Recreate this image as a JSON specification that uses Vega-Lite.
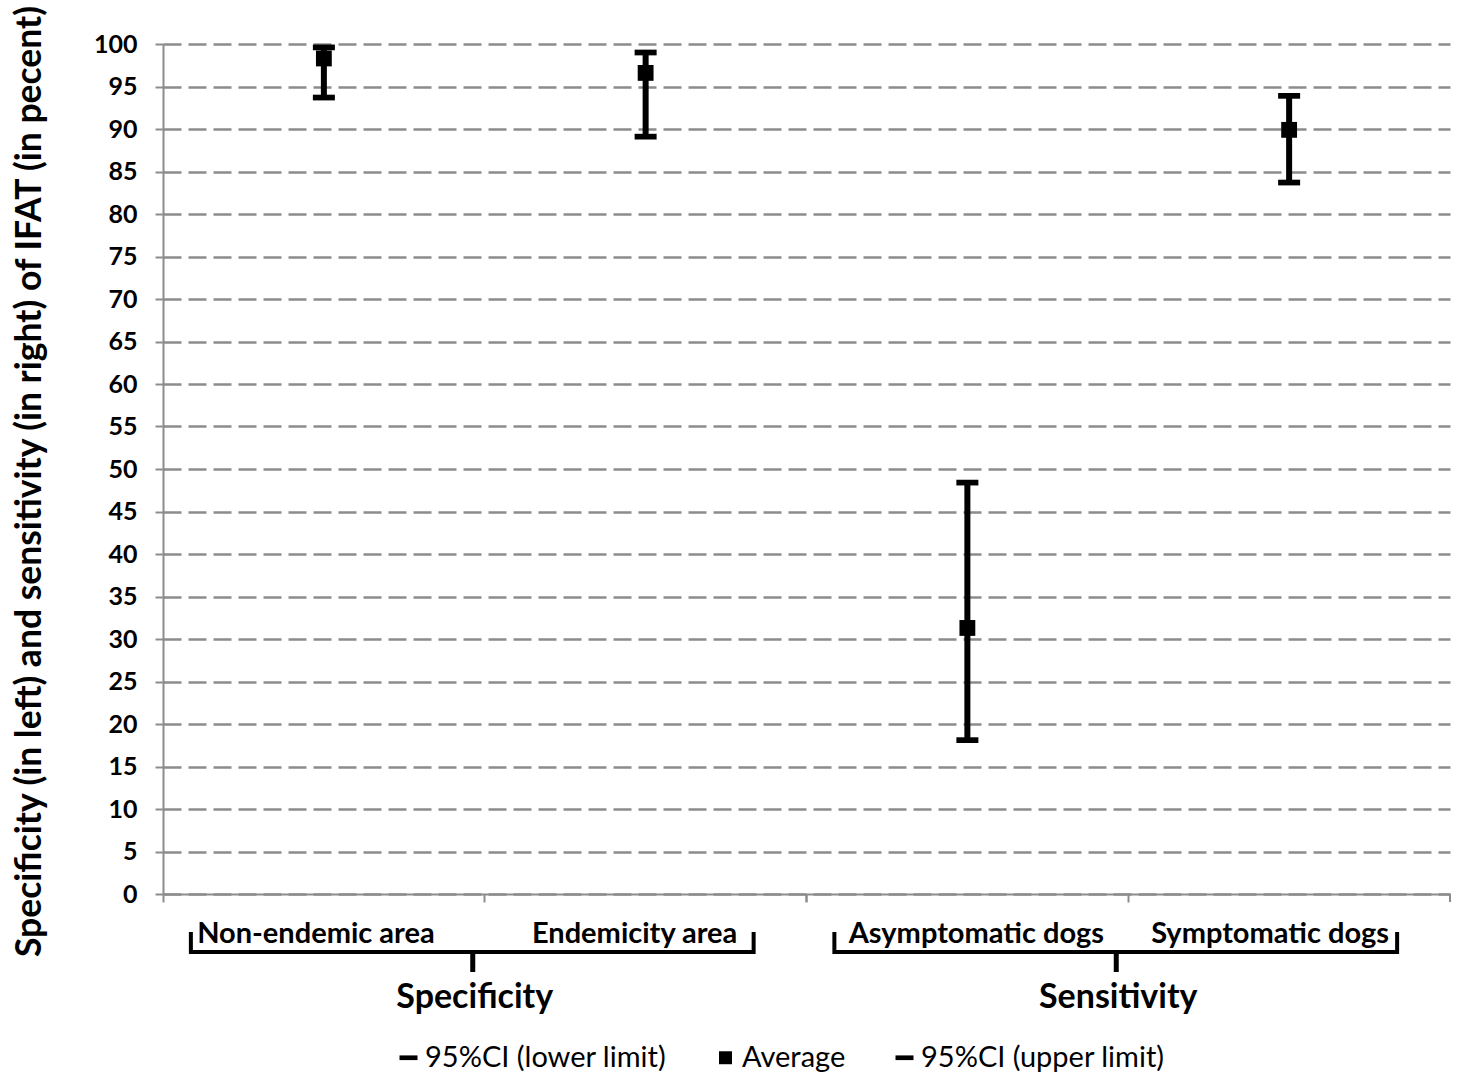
{
  "$schema": "https://vega.github.io/schema/vega-lite/v6.json",
  "width": 1287,
  "height": 850,
  "autosize": {"type": "none"},
  "padding": {"left": 163, "top": 44, "right": 8, "bottom": 178},
  "background": "white",
  "config": {"font": "Lato", "view": {"stroke": null}},
  "datasets": {
    "ifat": [
      {"category": "Non-endemic area", "series": "95%CI (lower limit)", "value": 93.7},
      {"category": "Non-endemic area", "series": "Average", "value": 98.3},
      {"category": "Non-endemic area", "series": "95%CI (upper limit)", "value": 99.6},
      {"category": "Endemicity area", "series": "95%CI (lower limit)", "value": 89.1},
      {"category": "Endemicity area", "series": "Average", "value": 96.6},
      {"category": "Endemicity area", "series": "95%CI (upper limit)", "value": 99.0},
      {"category": "Asymptomatic dogs", "series": "95%CI (lower limit)", "value": 18.1},
      {"category": "Asymptomatic dogs", "series": "Average", "value": 31.3},
      {"category": "Asymptomatic dogs", "series": "95%CI (upper limit)", "value": 48.4},
      {"category": "Symptomatic dogs", "series": "95%CI (lower limit)", "value": 83.7},
      {"category": "Symptomatic dogs", "series": "Average", "value": 89.9},
      {"category": "Symptomatic dogs", "series": "95%CI (upper limit)", "value": 93.9}
    ],
    "groups": [
      {"group": "Specificity", "first": "Non-endemic area", "last": "Endemicity area"},
      {"group": "Sensitivity", "first": "Asymptomatic dogs", "last": "Symptomatic dogs"}
    ]
  },
  "layer": [
    {
      "data": {"name": "ifat"},
      "mark": {"type": "rule", "strokeWidth": 6, "color": "black"},
      "encoding": {
        "x": {
          "field": "category", "type": "nominal", "sort": null, "title": null,
          "scale": {"domain": ["Non-endemic area", "Endemicity area", "Asymptomatic dogs", "Symptomatic dogs"], "paddingInner": 0, "paddingOuter": 0},
          "axis": {"domainColor": "#8c8c8c", "domainWidth": 2, "ticks": true, "tickColor": "#8c8c8c", "tickWidth": 2, "tickSize": 8, "bandPosition": 0, "labelFont": "Lato", "labelFontSize": 29, "labelFontWeight": "bold", "labelColor": "black", "labelPadding": 17, "labelAngle": 0, "labelLimit": 0, "grid": false,
            "labelOffset": {"condition": [{"test": "datum.value === 'Non-endemic area'", "value": -8}, {"test": "datum.value === 'Endemicity area'", "value": -11}, {"test": "datum.value === 'Asymptomatic dogs'", "value": 9}], "value": -19}}
        },
        "y": {
          "aggregate": "min", "field": "value", "type": "quantitative",
          "title": "Specificity (in left) and sensitivity (in right) of IFAT (in pecent)",
          "scale": {"domain": [0, 100], "nice": false, "zero": true},
          "axis": {"titleFont": "Lato", "titleFontSize": 35.5, "titleFontWeight": "bold", "titleColor": "black", "titlePadding": 46, "titleY": 437, "titleLimit": 0, "values": [0, 5, 10, 15, 20, 25, 30, 35, 40, 45, 50, 55, 60, 65, 70, 75, 80, 85, 90, 95, 100], "labelFont": "Lato", "labelFontSize": 25, "labelFontWeight": "bold", "labelColor": "black", "labelPadding": 18, "tickSize": 8, "tickColor": "#8c8c8c", "tickWidth": 2, "domainColor": "#8c8c8c", "domainWidth": 2, "grid": true, "gridColor": "#8c8c8c", "gridDash": [18, 7], "gridWidth": 2.5}
        },
        "y2": {"aggregate": "max", "field": "value"}
      }
    },
    {
      "data": {"name": "ifat"},
      "mark": {"type": "point", "filled": true, "size": 484, "opacity": 1, "color": "black", "strokeWidth": 0},
      "encoding": {
        "x": {"field": "category", "type": "nominal", "title": null},
        "y": {"field": "value", "type": "quantitative", "title": "Specificity (in left) and sensitivity (in right) of IFAT (in pecent)"},
        "shape": {
          "field": "series", "type": "nominal",
          "scale": {"domain": ["95%CI (lower limit)", "Average", "95%CI (upper limit)"], "range": ["M-1,-0.26H1V0.26H-1Z", "M-0.72,-0.72H0.72V0.72H-0.72Z", "M-1,-0.26H1V0.26H-1Z"]},
          "legend": {"orient": "none", "legendX": 231, "legendY": 999, "direction": "horizontal", "title": null, "labelFont": "Lato", "labelFontSize": 29, "labelColor": "black", "labelLimit": 0, "symbolSize": 324, "symbolFillColor": "black", "symbolStrokeWidth": 0, "columnPadding": 44, "labelOffset": 2}
        }
      }
    },
    {
      "data": {"name": "groups"},
      "mark": {"type": "rule", "strokeWidth": 2, "color": "#8c8c8c", "y2Offset": 8},
      "encoding": {
        "x": {"field": "last", "type": "nominal", "bandPosition": 1, "title": null},
        "y": {"datum": 0, "type": "quantitative", "title": "Specificity (in left) and sensitivity (in right) of IFAT (in pecent)"},
        "y2": {"datum": 0}
      }
    },
    {
      "data": {"name": "groups"},
      "mark": {"type": "rule", "strokeWidth": 4, "color": "black", "xOffset": -133, "x2Offset": 108, "yOffset": 58},
      "encoding": {
        "x": {"field": "first", "type": "nominal", "title": null},
        "x2": {"field": "last"},
        "y": {"datum": 0, "type": "quantitative", "title": "Specificity (in left) and sensitivity (in right) of IFAT (in pecent)"}
      }
    },
    {
      "data": {"name": "groups"},
      "mark": {"type": "rule", "strokeWidth": 4, "color": "black", "xOffset": -133, "yOffset": 38, "y2Offset": 60},
      "encoding": {
        "x": {"field": "first", "type": "nominal", "title": null},
        "y": {"datum": 0, "type": "quantitative", "title": "Specificity (in left) and sensitivity (in right) of IFAT (in pecent)"},
        "y2": {"datum": 0}
      }
    },
    {
      "data": {"name": "groups"},
      "mark": {"type": "rule", "strokeWidth": 4, "color": "black", "xOffset": 108, "yOffset": 38, "y2Offset": 60},
      "encoding": {
        "x": {"field": "last", "type": "nominal", "title": null},
        "y": {"datum": 0, "type": "quantitative", "title": "Specificity (in left) and sensitivity (in right) of IFAT (in pecent)"},
        "y2": {"datum": 0}
      }
    },
    {
      "data": {"name": "groups"},
      "mark": {"type": "rule", "strokeWidth": 5, "color": "black", "xOffset": -12, "yOffset": 58, "y2Offset": 78},
      "encoding": {
        "x": {"field": "last", "type": "nominal", "bandPosition": 0, "title": null},
        "y": {"datum": 0, "type": "quantitative", "title": "Specificity (in left) and sensitivity (in right) of IFAT (in pecent)"},
        "y2": {"datum": 0}
      }
    },
    {
      "data": {"name": "groups"},
      "mark": {"type": "text", "font": "Lato", "fontSize": 34, "fontWeight": "bold", "color": "black", "align": "center", "baseline": "middle", "xOffset": -10, "yOffset": 104},
      "encoding": {
        "x": {"field": "last", "type": "nominal", "bandPosition": 0, "title": null},
        "y": {"datum": 0, "type": "quantitative", "title": "Specificity (in left) and sensitivity (in right) of IFAT (in pecent)"},
        "text": {"field": "group"}
      }
    }
  ]
}
